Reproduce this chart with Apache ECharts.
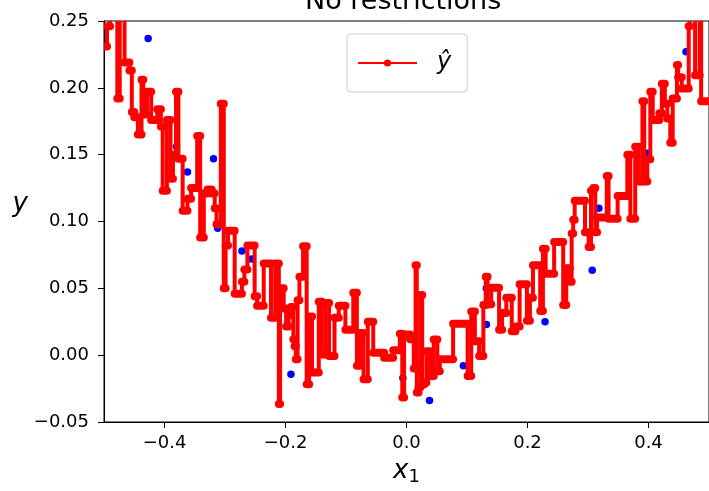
<!DOCTYPE html>
<html><head><meta charset="utf-8">
<script src="https://cdn.jsdelivr.net/npm/echarts@6/dist/echarts.min.js"></script>
<style>html,body{margin:0;padding:0;background:#fff}#c{width:709px;height:491px}</style>
</head><body><div id="c"></div>
<script>
// Leaf start positions (x1) and predicted values (y-hat) of the unrestricted tree
const leafX = [
 -0.500,-0.495,-0.490,-0.478,-0.474,-0.466,-0.458,-0.454,-0.450,-0.444,
 -0.438,-0.435,-0.429,-0.422,-0.412,-0.406,-0.403,-0.396,-0.390,-0.386,
 -0.381,-0.377,-0.370,-0.362,-0.356,-0.346,-0.341,-0.335,-0.329,-0.322,
 -0.317,-0.314,-0.307,-0.302,-0.299,-0.295,-0.284,-0.272,-0.268,-0.263,
 -0.251,-0.247,-0.236,-0.224,-0.217,-0.211,-0.209,-0.203,-0.199,-0.195,
 -0.191,-0.187,-0.185,-0.183,-0.180,-0.177,-0.171,-0.165,-0.161,-0.156,
 -0.145,-0.140,-0.134,-0.128,-0.119,-0.112,-0.101,-0.088,-0.082,-0.077,
 -0.071,-0.064,-0.055,-0.037,-0.022,-0.011,-0.007,-0.004,0.006,0.012,
 0.015,0.017,0.020,0.023,0.026,0.029,0.033,0.039,0.045,0.051,
 0.055,0.077,0.101,0.107,0.113,0.120,0.127,0.131,0.134,0.140,
 0.153,0.158,0.165,0.174,0.180,0.187,0.199,0.204,0.209,0.221,
 0.2255,0.230,0.244,0.259,0.264,0.270,0.273,0.2755,0.278,0.295,
 0.301,0.305,0.309,0.312,0.315,0.331,0.334,0.349,0.365,0.370,
 0.378,0.384,0.390,0.393,0.398,0.403,0.407,0.418,0.422,0.427,
 0.431,0.436,0.440,0.447,0.449,0.455,0.4665,0.468,0.477,0.4845,
 0.487
];
const leafY = [
 0.231,0.246,0.280,0.192,0.280,0.219,0.213,0.182,0.178,0.165,
 0.206,0.180,0.197,0.176,0.184,0.171,0.123,0.176,0.132,0.150,
 0.197,0.147,0.108,0.117,0.125,0.164,0.088,0.121,0.124,0.121,
 0.110,0.098,0.188,0.050,0.082,0.093,0.046,0.055,0.064,0.082,
 0.044,0.037,0.0685,0.028,0.0685,-0.0366,0.050,0.035,0.0215,0.030,
 0.036,0.012,0.0067,-0.003,0.041,0.0586,0.0814,-0.0217,0.029,-0.013,
 0.040,0.0005,0.039,-0.0007,0.028,0.037,0.019,0.0467,-0.008,0.0166,
 -0.018,0.025,0.0018,-0.002,0.0037,0.016,-0.0316,0.0154,0.012,-0.010,
 0.0673,-0.028,-0.024,0.045,-0.022,-0.0205,0.003,-0.0156,0.0117,-0.012,
 -0.003,0.0235,-0.0156,0.0326,0.0104,-0.0007,0.0376,0.0586,0.038,0.0505,
 0.019,0.0315,0.043,0.0178,0.0215,0.053,0.0257,0.043,0.0673,0.033,
 0.0797,0.061,0.0846,0.0376,0.065,0.055,0.091,0.1014,0.1155,0.092,
 0.081,0.123,0.125,0.092,0.103,0.134,0.102,0.119,0.150,0.102,
 0.156,0.130,0.190,0.130,0.1465,0.197,0.176,0.181,0.203,0.188,
 0.177,0.159,0.192,0.217,0.208,0.1995,0.246,0.280,0.2095,0.280,
 0.190
];
// Training points that remain visible (not covered by the red curve)
const blueX = [-0.427,-0.380,-0.362,-0.319,-0.312,-0.272,-0.256,-0.191,-0.006,0.038,
               0.094,0.132,0.132,0.229,0.229,0.307,0.318,0.387,0.399,0.462];
const blueY = [0.237,0.156,0.137,0.147,0.095,0.078,0.072,-0.0143,-0.017,-0.034,
               -0.008,0.050,0.023,0.025,0.0797,0.0635,0.110,0.130,0.151,0.227];
const xTickValues = [-0.4,-0.2,0.0,0.2,0.4];
const xTickLabels = ['\u22120.4','\u22120.2','0.0','0.2','0.4'];
const yTickValues = [-0.05,0.00,0.05,0.10,0.15,0.20,0.25];
const yTickLabels = ['\u22120.05','0.00','0.05','0.10','0.15','0.20','0.25'];

const FONT = 'DejaVu Sans';
const segData = leafX.map((x0, i) => [
  x0,
  i + 1 < leafX.length ? leafX[i + 1] : 0.5,
  leafY[i],
  i + 1 < leafY.length ? leafY[i + 1] : leafY[i]
]);
const blueData = blueX.map((x, i) => [x, blueY[i]]);

function nearestLabel(vals, labels, v) {
  let best = 0;
  for (let i = 1; i < vals.length; i++) if (Math.abs(vals[i] - v) < Math.abs(vals[best] - v)) best = i;
  return Math.abs(vals[best] - v) < 1e-6 ? labels[best] : '';
}

const chart = echarts.init(document.getElementById('c'), null, {renderer: 'canvas'});
chart.setOption({
  animation: false,
  backgroundColor: '#ffffff',
  textStyle: {fontFamily: FONT},
  title: {
    text: 'No restrictions', left: 305, top: -12, padding: 0,
    textStyle: {fontSize: 27, fontWeight: 'normal', fontFamily: FONT, color: '#000'}
  },
  legend: {
    data: ['\u0177'], left: 347, top: 34, orient: 'vertical',
    padding: [14, 16, 14, 10], itemWidth: 59, itemHeight: 9,
    backgroundColor: '#ffffff', borderColor: '#cccccc', borderWidth: 1, borderRadius: 4,
    selectedMode: false,
    textStyle: {fontSize: 24, fontStyle: 'italic', fontFamily: FONT, color: '#000', lineHeight: 30, padding: [0, 0, 0, 15]}
  },
  grid: {left: 104, right: -2, top: 21, bottom: 67.7, show: true, borderColor: '#000', borderWidth: 1, backgroundColor: '#fff'},
  xAxis: {
    type: 'value', min: -0.5, max: 0.5, interval: 0.1,
    splitLine: {show: false},
    axisLine: {show: true, onZero: false, lineStyle: {color: '#000', width: 1}},
    axisTick: {show: true, length: 6, lineStyle: {color: '#000', width: 1}, customValues: xTickValues},
    axisLabel: {
      customValues: xTickValues, fontSize: 18, color: '#000', margin: 12, lineHeight: 18, fontFamily: FONT,
      formatter: v => nearestLabel(xTickValues, xTickLabels, v)
    },
    name: '{a|x}{b|1}', nameLocation: 'middle', nameGap: 34,
    nameTextStyle: {
      verticalAlign: 'top',
      rich: {
        a: {fontSize: 26, fontStyle: 'italic', fontFamily: FONT, lineHeight: 30, color: '#000'},
        b: {fontSize: 18, fontFamily: FONT, lineHeight: 18, verticalAlign: 'bottom', color: '#000'}
      }
    }
  },
  yAxis: {
    type: 'value', min: -0.05, max: 0.25, interval: 0.05,
    splitLine: {show: false},
    axisLine: {show: true, onZero: false, lineStyle: {color: '#000', width: 1}},
    axisTick: {show: true, length: 6, lineStyle: {color: '#000', width: 1}},
    axisLabel: {
      fontSize: 18, color: '#000', margin: 15, fontFamily: FONT,
      formatter: v => nearestLabel(yTickValues, yTickLabels, v)
    },
    name: 'y', nameLocation: 'middle', nameRotate: 0, nameGap: 75,
    nameTextStyle: {fontSize: 26, fontStyle: 'italic', fontFamily: FONT, color: '#000',
      align: 'right', verticalAlign: 'bottom', lineHeight: 26, padding: [0, 0, 4, 0]}
  },
  series: [
    {
      name: '\u0177', type: 'line', data: [], symbol: 'circle', symbolSize: 7,
      itemStyle: {color: '#ff0000'}, lineStyle: {color: '#ff0000', width: 3.5}
    },
    {
      name: 'train', type: 'scatter', data: blueData, symbol: 'circle', symbolSize: 7.5,
      itemStyle: {color: '#0000ff', opacity: 1}, z: 2, silent: true
    },
    {
      name: 'steps', type: 'custom', data: segData, clip: true, z: 3, silent: true,
      encode: {x: [0, 1], y: [2, 3]},
      renderItem: function (params, api) {
        const x0 = api.value(0), x1 = api.value(1), y = api.value(2), yn = api.value(3);
        const p0 = api.coord([x0, y]), p1 = api.coord([x1, y]), p2 = api.coord([x1, yn]);
        return {
          type: 'group',
          children: [
            {type: 'line', shape: {x1: p1[0], y1: p1[1], x2: p2[0], y2: p2[1]},
             style: {stroke: '#ff0000', lineWidth: 4, fill: null}},
            {type: 'line', shape: {x1: p0[0], y1: p0[1], x2: p1[0], y2: p1[1]},
             style: {stroke: '#ff0000', lineWidth: 8, lineCap: 'round', fill: null}}
          ]
        };
      }
    }
  ]
});
</script></body></html>
